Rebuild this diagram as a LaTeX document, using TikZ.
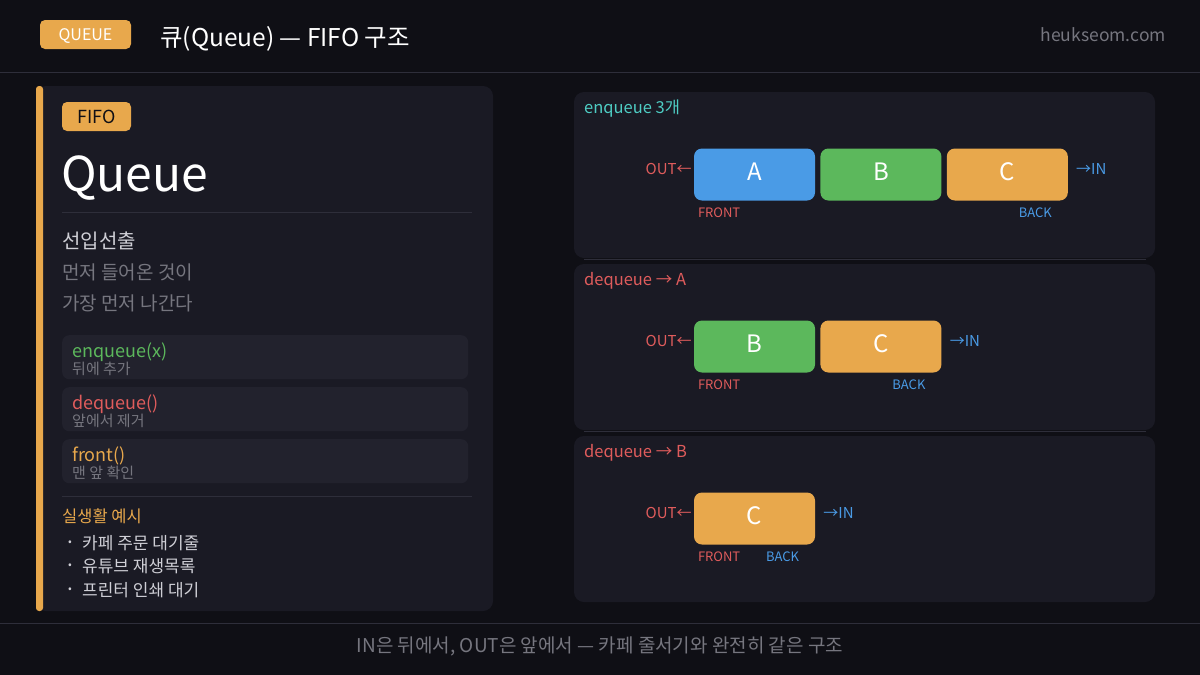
\documentclass[tikz,border=0pt]{standalone}
\usepackage{fontspec}
\setmainfont{Noto Sans CJK KR}
\usetikzlibrary{positioning}
\definecolor{bgc}{HTML}{0F0F15}
\definecolor{panelc}{HTML}{1A1A24}
\definecolor{opc}{HTML}{22222D}
\definecolor{linec}{HTML}{2E2E3A}
\definecolor{corange}{HTML}{E8A84C}
\definecolor{cblue}{HTML}{4A9BE6}
\definecolor{cgreen}{HTML}{5CB85C}
\definecolor{cred}{HTML}{E05C5C}
\definecolor{cteal}{HTML}{4ECDC4}
\definecolor{mutec}{HTML}{76767F}
\definecolor{lightc}{HTML}{CFCFD6}
\newcommand{\fsz}[1]{\fontsize{#1}{#1}\selectfont}
\tikzset{
  badge/.style={fill=corange, rounded corners=5pt, inner sep=0pt},
  cell/.style={rounded corners=8pt, minimum width=121pt, minimum height=52pt, inner sep=0pt},
  letter/.style={anchor=base, inner sep=0pt, text=white, font=\fsz{24}},
  opbox/.style={fill=opc, rounded corners=7pt, minimum width=406pt, minimum height=44pt, inner sep=0pt},
  outlbl/.style={anchor=base east, text=cred, font=\fsz{15}, inner sep=0pt},
  inlbl/.style={anchor=base west, text=cblue, font=\fsz{15}, inner sep=0pt},
  endlbl/.style={font=\fsz{13}, inner sep=0pt},
  txt/.style={anchor=base west, inner sep=0pt}
}
\begin{document}
\begin{tikzpicture}[x=1pt, y=-1pt]
  % Background
  \fill[bgc] (0,0) rectangle (1200,675);
  \useasboundingbox (0,0) rectangle (1200,675);
  % Header
  \fill[corange, rounded corners=5pt] (40,20) rectangle (131,49);
  \node[anchor=base, inner sep=0pt, text=white, font=\fsz{16}] (qbadge) at (85.5,40.5) {QUEUE};
  \node[txt, text=white, font=\fsz{24.5}] (title) at (160,46.5) {큐(Queue) — FIFO 구조};
  \node[txt, anchor=base east, text=mutec, font=\fsz{17.5}] (site) at (1166,41.5) {heukseom.com};
  \draw[linec] (0,72) -- (1200,72);
  % Left panel
  \fill[panelc, rounded corners=10pt] (36,86) rectangle (493,611);
  \fill[corange, rounded corners=3pt] (36,86) rectangle (43,611);
  \fill[corange, rounded corners=5pt] (62,102) rectangle (131,131);
  \node[anchor=base, inner sep=0pt, text=bgc, font=\fsz{18}] (fifo) at (96.5,123) {FIFO};
  \node[txt, text=white, font=\fsz{48}] (qname) at (61,191) {Queue};
  \draw[linec] (62,212) -- (472,212);
  \node[txt, text=lightc, font=\fsz{20}] (rule) at (62,248) {선입선출};
  \node[txt, text=mutec, font=\fsz{19}] (rule1) at (62,279) {먼저 들어온 것이};
  \node[txt, text=mutec, font=\fsz{19}] (rule2) at (62,310) {가장 먼저 나간다};
  % Operations
  \foreach \y/\nm/\fn/\sub/\col in {335/enq/enqueue(x)/뒤에 추가/cgreen, 387/deq/dequeue()/앞에서 제거/cred, 439/frt/front()/맨 앞 확인/corange} {
    \node[opbox, anchor=north west] (\nm) at (62,\y) {};
    \node[txt, text=\col, font=\fsz{18}] (\nm-fn) at (72,\y+22) {\fn};
    \node[txt, text=mutec, font=\fsz{15}] (\nm-sub) at (72,\y+39) {\sub};
  }
  \draw[linec] (62,496) -- (472,496);
  % Real-life examples
  \node[txt, text=corange, font=\fsz{16.5}] (ex) at (62,522) {실생활 예시};
  \foreach \y/\nm/\s in {549/ex1/카페 주문 대기줄, 572/ex2/유튜브 재생목록, 596/ex3/프린터 인쇄 대기} {
    \node[anchor=base, inner sep=0pt, text=lightc, font=\fsz{11}] (\nm-dot) at (70,\y-3.5) {•};
    \node[txt, text=lightc, font=\fsz{17}] (\nm) at (82,\y) {\s};
  }
  % Right panels
  \foreach \y/\nm/\s/\col in {92/p1/enqueue 3개/cteal, 264/p2/dequeue → A/cred, 436/p3/dequeue → B/cred} {
    \fill[panelc, rounded corners=10pt] (574,\y) rectangle (1155,\y+166);
    \node[txt, text=\col, font=\fsz{16.5}] (\nm-title) at (584,\y+21.5) {\s};
  }
  \draw[linec] (584,259) -- (1146,259);
  \draw[linec] (584,431) -- (1146,431);
  % enqueue 3
  \node[cell, fill=cblue] (a1) at (754.5,174.5) {};
  \node[cell, fill=cgreen, right=5pt of a1] (b1) {};
  \node[cell, fill=corange, right=5pt of b1] (c1) {};
  \foreach \c/\l in {a1/A, b1/B, c1/C}
    \node[letter] (\c-l) at ([yshift=-5.5pt]\c.center) {\l};
  \node[outlbl] (out1) at ([xshift=-2pt]a1.west) {OUT←};
  \node[inlbl] (in1) at ([xshift=8pt]c1.east) {→IN};
  \node[endlbl, text=cred, anchor=base west] (front1) at ([xshift=4pt, yshift=-16.5pt]a1.south west) {FRONT};
  \node[endlbl, text=cblue, anchor=base east] (back1) at ([xshift=-16pt, yshift=-16.5pt]c1.south east) {BACK};
  % dequeue A
  \node[cell, fill=cgreen] (b2) at (754.5,346.5) {};
  \node[cell, fill=corange, right=5pt of b2] (c2) {};
  \foreach \c/\l in {b2/B, c2/C}
    \node[letter] (\c-l) at ([yshift=-5.5pt]\c.center) {\l};
  \node[outlbl] (out2) at ([xshift=-2pt]b2.west) {OUT←};
  \node[inlbl] (in2) at ([xshift=8pt]c2.east) {→IN};
  \node[endlbl, text=cred, anchor=base west] (front2) at ([xshift=4pt, yshift=-16.5pt]b2.south west) {FRONT};
  \node[endlbl, text=cblue, anchor=base east] (back2) at ([xshift=-16pt, yshift=-16.5pt]c2.south east) {BACK};
  % dequeue B
  \node[cell, fill=corange] (c3) at (754.5,518.5) {};
  \node[letter] (c3-l) at ([yshift=-5.5pt]c3.center) {C};
  \node[outlbl] (out3) at ([xshift=-2pt]c3.west) {OUT←};
  \node[inlbl] (in3) at ([xshift=8pt]c3.east) {→IN};
  \node[endlbl, text=cred, anchor=base west] (front3) at ([xshift=4pt, yshift=-16.5pt]c3.south west) {FRONT};
  \node[endlbl, text=cblue, anchor=base east] (back3) at ([xshift=-16pt, yshift=-16.5pt]c3.south east) {BACK};
  % Footer
  \draw[linec] (0,623) -- (1200,623);
  \node[anchor=base, inner sep=0pt, text=mutec, font=\fsz{19}] (foot) at (600,652) {IN은 뒤에서, OUT은 앞에서 — 카페 줄서기와 완전히 같은 구조};
\end{tikzpicture}
\end{document}
